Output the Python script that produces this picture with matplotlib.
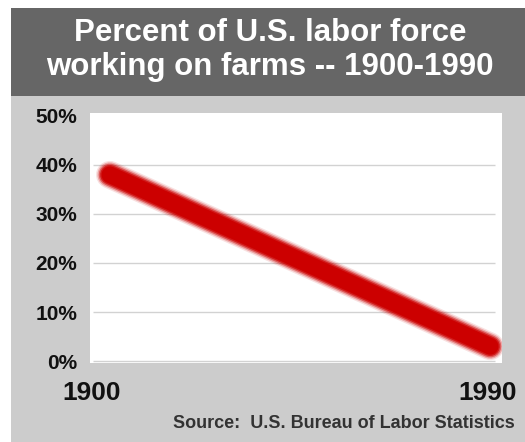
import numpy as np
import matplotlib.pyplot as plt
from matplotlib.patches import Rectangle

# data
years = [1900, 1990]
farm_pct = [38, 3]
y_ticks = [0, 10, 20, 30, 40, 50]
y_labels = ['0%', '10%', '20%', '30%', '40%', '50%']
x_labels = ['1900', '1990']

title = 'Percent of U.S. labor force\nworking on farms -- 1900-1990'
source = 'Source:  U.S. Bureau of Labor Statistics'

plt.rcParams['font.family'] = ['Liberation Sans', 'DejaVu Sans']

W, H = 525, 442
fig = plt.figure(figsize=(W / 100, H / 100), dpi=100)
fig.patch.set_facecolor('white')

# background panels (pixel boxes -> figure fractions)
def box(x0, y0, x1, y1, color):
    fig.patches.append(Rectangle((x0 / W, 1 - y1 / H), (x1 - x0) / W, (y1 - y0) / H,
                                 transform=fig.transFigure, facecolor=color,
                                 edgecolor='none', zorder=-10))

box(11, 96, W, H, '#cccccc')
box(11, 8, W, 96, '#666666')

fig.text(0.514, 1 - 50 / H, title, color='white', fontsize=22.5, fontweight='bold',
         ha='center', va='center', linespacing=1.2)

ax = fig.add_axes([90 / W, 1 - 363 / H, 412 / W, 250 / H])
ax.set_facecolor('white')
for s in ax.spines.values():
    s.set_visible(False)

ax.set_xlim(1895.3, 1992.8)
ax.set_ylim(-0.4, 50.6)

# inset gridlines
ax.hlines(y_ticks[:-1], 0.007, 0.983, transform=ax.get_yaxis_transform(),
          color='#d2d2d2', linewidth=1, zorder=1)

# blurry thick red line
for lw, a in [(20, 0.12), (18, 0.25), (16, 0.45), (14, 0.7), (12, 1.0)]:
    ax.plot(years, farm_pct, color='#cc0000', linewidth=lw, alpha=a,
            solid_capstyle='round', zorder=3)

ax.set_yticks(y_ticks, y_labels)
ax.tick_params(axis='y', length=0, pad=9, labelsize=15, labelcolor='#111111')
for t in ax.get_yticklabels():
    t.set_fontweight('bold')

ax.set_xticks([])
for yr, lab, dx in zip(years, x_labels, [-13, -1.5]):
    ax.annotate(lab, xy=(yr, 0), xycoords=('data', 'axes fraction'),
                xytext=(dx, -13), textcoords='offset points',
                ha='center', va='top', fontsize=19, fontweight='bold',
                color='#111111', annotation_clip=False)

fig.text(515 / W, 1 - 428 / H, source, ha='right', va='baseline',
         fontsize=13, fontweight='bold', color='#333333')

fig.savefig('out.png', dpi=100, facecolor=fig.get_facecolor())
